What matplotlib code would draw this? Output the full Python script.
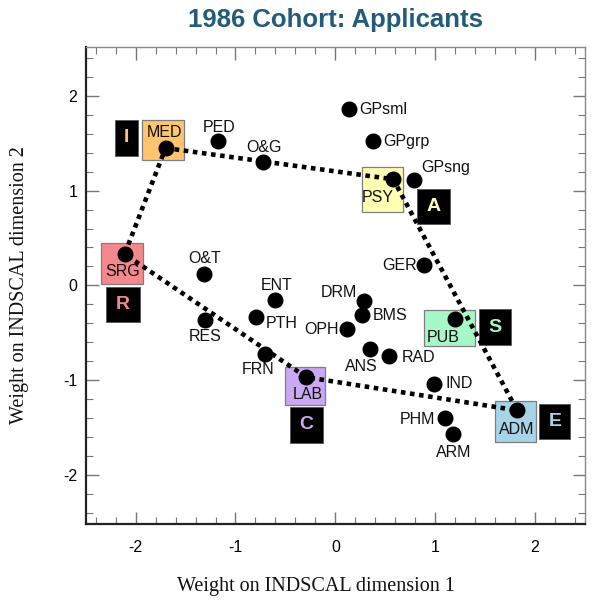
import matplotlib
matplotlib.use("Agg")
import matplotlib.pyplot as plt
import matplotlib.transforms as mtransforms
from matplotlib.patches import Rectangle
from matplotlib.ticker import MultipleLocator

# ---------------- data ----------------
names = ["GPsml", "GPgrp", "GPsng", "PSY", "MED", "PED", "O&G", "SRG", "O&T",
         "RES", "ENT", "PTH", "FRN", "LAB", "DRM", "BMS", "OPH", "ANS", "RAD",
         "GER", "PUB", "IND", "ADM", "PHM", "ARM"]
dim1 = [0.14, 0.38, 0.79, 0.58, -1.70, -1.18, -0.72, -2.11, -1.32,
        -1.31, -0.60, -0.79, -0.70, -0.29, 0.29, 0.27, 0.12, 0.35, 0.54,
        0.89, 1.20, 0.99, 1.82, 1.10, 1.18]
dim2 = [1.86, 1.52, 1.11, 1.12, 1.45, 1.52, 1.30, 0.33, 0.12,
        -0.37, -0.15, -0.33, -0.72, -0.97, -0.17, -0.31, -0.46, -0.67, -0.75,
        0.21, -0.36, -1.04, -1.32, -1.40, -1.57]

# vertices of the dotted polygon (in order) and their letters
vertex_names = ["MED", "PSY", "ADM", "LAB", "SRG"]
vertex_letters = ["I", "A", "E", "C", "R"]
vertex_colors = ["#FFC46E", "#FFFFB4", "#A8D4E8", "#CAA8F2", "#F4888C"]
extra_vertex = ["PUB"]
extra_letters = ["S"]
extra_colors = ["#A8F7C8"]

title = "1986 Cohort: Applicants"
xlabel = "Weight on INDSCAL dimension 1"
ylabel = "Weight on INDSCAL dimension 2"

# ---------------- layout / style ----------------
PX = 0.72  # points per pixel at dpi 100

# label offsets in pixels (dx, dy with y down) and horizontal alignment
label_pos = {
    "GPsml": (10, 0, "left"), "GPgrp": (10, 0, "left"), "GPsng": (7, -13, "left"),
    "PED": (2, -14, "center"), "O&G": (1, -15, "center"), "O&T": (1, -15, "center"),
    "ENT": (1, -14, "center"), "RES": (1, 16.5, "center"), "PTH": (9, 6.5, "left"),
    "FRN": (-7, 16, "center"), "DRM": (-7.5, -9, "right"), "BMS": (10.5, 0.7, "left"),
    "OPH": (-9, 0.7, "right"), "ANS": (-8.5, 17.5, "center"), "RAD": (12.5, 0.7, "left"),
    "GER": (-7.5, 0, "right"), "IND": (11.5, 0, "left"), "PHM": (-9.5, 1.6, "right"),
    "ARM": (0.7, 18, "center"),
}
# colored box: (left, right, top, bottom) px rel. to dot, text offset (dx, dy)
box_geom = {
    "MED": ((-23.3, 18.3, -28.4, 12.3), (-1, -16)),
    "PSY": ((-31.6, 9.7, -12.3, 32.3), (-15, 18.3)),
    "SRG": ((-23.3, 18.3, -10.7, 30.3), (-2.3, 17.7)),
    "PUB": ((-31.0, 19.7, -9.3, 26.7), (-12, 18)),
    "LAB": ((-21.4, 19.0, -10.6, 27.7), (1.6, 17.7)),
    "ADM": ((-22.0, 19.4, -9.0, 31.6), (-0.6, 19.3)),
}
# black letter box: (left, right, top, bottom) px rel. to dot
letter_geom = {
    "MED": (-50.7, -27.7, -27.7, 7.6),
    "PSY": (24.0, 57.0, 9.3, 45.0),
    "SRG": (-18.3, 15.3, 32.7, 68.3),
    "PUB": (23.7, 55.4, -10.0, 25.7),
    "LAB": (-16.0, 16.6, 30.0, 65.4),
    "ADM": (22.0, 53.4, -6.7, 28.6),
}

sans = ["Liberation Sans", "Arial", "DejaVu Sans"]
serif = ["Liberation Serif", "Times New Roman", "DejaVu Serif"]

fig = plt.figure(figsize=(6, 6), dpi=100)
ax = fig.add_axes([85.7 / 600, 76 / 600, (585 - 85.7) / 600, (524 - 46.7) / 600])
ax.set_xlim(-2.5, 2.5)
ax.set_ylim(-2.52, 2.52)

pos = {n: (x, y) for n, x, y in zip(names, dim1, dim2)}


def px_rect(n, geom, fc, ec, lw, z):
    x, y = pos[n]
    l, r, t, b = geom
    tr = fig.dpi_scale_trans + mtransforms.ScaledTranslation(x, y, ax.transData)
    rect = Rectangle((l / 100, -b / 100), (r - l) / 100, (b - t) / 100,
                     transform=tr, facecolor=fc, edgecolor=ec, linewidth=lw,
                     zorder=z, clip_on=False)
    ax.add_patch(rect)


all_v = list(zip(vertex_names, vertex_letters, vertex_colors)) + \
    list(zip(extra_vertex, extra_letters, extra_colors))
for n, letter, col in all_v:
    geom, toff = box_geom[n]
    px_rect(n, geom, col, "#7f7f7f", 0.9, 1)
    ax.annotate(n, pos[n], xytext=(toff[0] * PX, -toff[1] * PX),
                textcoords="offset points", ha="center", va="center",
                fontsize=11.5, family=sans, color="#111111", zorder=2)
    lg = letter_geom[n]
    px_rect(n, lg, "black", "#555555", 0.6, 1)
    cx = (lg[0] + lg[1]) / 2
    cy = (lg[2] + lg[3]) / 2
    ax.annotate(letter, pos[n], xytext=(cx * PX, -cy * PX),
                textcoords="offset points", ha="center", va="center",
                fontsize=14, fontweight="bold", family=sans, color=col, zorder=2)

# dotted polygon
px_line = [pos[n][0] for n in vertex_names] + [pos[vertex_names[0]][0]]
py_line = [pos[n][1] for n in vertex_names] + [pos[vertex_names[0]][1]]
ax.plot(px_line, py_line, color="black", linewidth=3.3, linestyle=(0, (1.0, 1.0)),
        dash_capstyle="butt", zorder=3)

# dots
ax.plot(dim1, dim2, "o", color="black", markersize=10.5, zorder=4)

# point labels
for n in names:
    if n in label_pos:
        dx, dy, ha = label_pos[n]
        ax.annotate(n, pos[n], xytext=(dx * PX, -dy * PX), textcoords="offset points",
                    ha=ha, va="center", fontsize=11.5, family=sans, color="#111111",
                    zorder=5)

# axes styling
ax.xaxis.set_major_locator(MultipleLocator(1))
ax.yaxis.set_major_locator(MultipleLocator(1))
ax.xaxis.set_minor_locator(MultipleLocator(0.2))
ax.yaxis.set_minor_locator(MultipleLocator(0.2))
ax.tick_params(which="both", direction="in", top=True, right=True, color="#777777")
ax.tick_params(which="major", length=9, width=1.0)
ax.tick_params(which="minor", length=5, width=0.8)
ax.tick_params(axis="x", which="major", pad=11.5)
ax.tick_params(axis="y", which="major", pad=6)
for lab in ax.get_xticklabels() + ax.get_yticklabels():
    lab.set_fontfamily(sans)
    lab.set_fontsize(11.5)
ax.xaxis.set_major_formatter(matplotlib.ticker.FuncFormatter(lambda v, p: f"{v:.0f}"))
ax.yaxis.set_major_formatter(matplotlib.ticker.FuncFormatter(lambda v, p: f"{v:.0f}"))
for s in ["left", "bottom"]:
    ax.spines[s].set_color("#222222")
    ax.spines[s].set_linewidth(1.6)
for s in ["top", "right"]:
    ax.spines[s].set_color("#888888")
    ax.spines[s].set_linewidth(1.0)

fig.text(335 / 600, 1 - 20 / 600, title, ha="center", va="center", fontsize=18.5,
         fontweight="bold", family=sans, color="#235B7A")
fig.text(316 / 600, 1 - 587 / 600, xlabel, ha="center", va="center", fontsize=14.5,
         family=serif, color="#111111")
fig.text(20 / 600, 1 - 285 / 600, ylabel, ha="center", va="center", fontsize=14.5,
         family=serif, color="#111111", rotation=90)

fig.savefig("out.png", dpi=100)
